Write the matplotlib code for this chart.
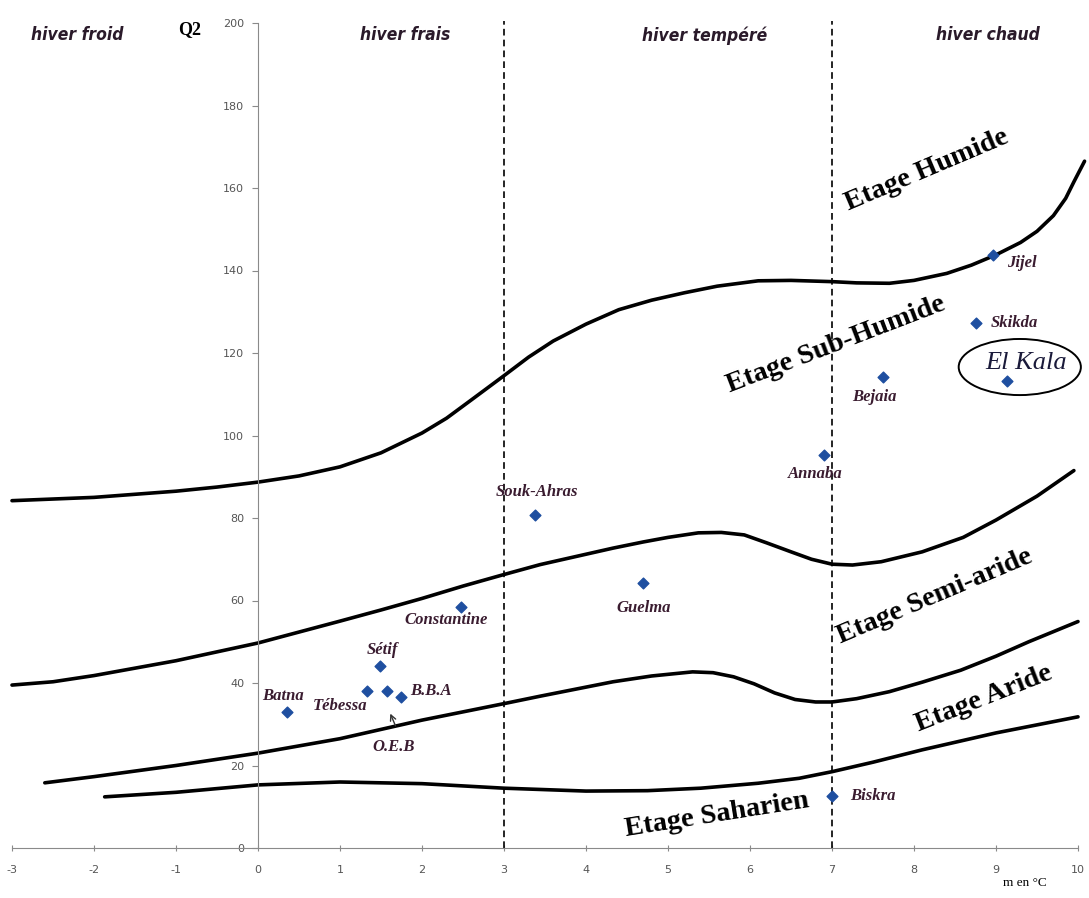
import matplotlib
matplotlib.use("Agg")
import matplotlib.pyplot as plt
from matplotlib.patches import Ellipse

plt.rcParams["axes.unicode_minus"] = False

# stations: m (deg C) and Q2
stations = ["Batna", "Tébessa", "Sétif", "O.E.B", "B.B.A", "Constantine", "Souk-Ahras",
            "Guelma", "Annaba", "Bejaia", "Skikda", "Jijel", "El Kala", "Biskra"]
m_vals = [0.35, 1.33, 1.49, 1.57, 1.74, 2.48, 3.38, 4.69, 6.9, 7.62, 8.76, 8.96, 9.13, 7.0]
q2_vals = [33.0, 38.1, 44.1, 38.1, 36.6, 58.4, 80.7, 64.2, 95.3, 114.3, 127.3, 143.8, 113.3, 12.6]

# boundaries between bioclimatic stages
humide_m = [-3, -2, -1, -0.5, 0, 0.5, 1.0, 1.5, 2.0, 2.3, 2.6, 3.0, 3.3, 3.6, 4.0, 4.4, 4.8, 5.2,
            5.6, 6.1, 6.5, 7.0, 7.3, 7.7, 8.0, 8.4, 8.7, 9.0, 9.3, 9.5, 9.7, 9.85, 9.95, 10.08]
humide_q = [84.2, 85, 86.5, 87.5, 88.7, 90.2, 92.4, 95.8, 100.6, 104.2, 108.6, 114.5, 119, 122.9,
            127.0, 130.5, 132.8, 134.6, 136.2, 137.5, 137.6, 137.3, 137.0, 136.9, 137.6, 139.3,
            141.3, 143.8, 146.8, 149.5, 153.3, 157.5, 161.5, 166.5]
semi_m = [-3, -2.5, -2, -1, 0, 1, 1.5, 2, 2.5, 3, 3.44, 4.33, 4.7, 5.0, 5.37, 5.65, 5.93, 6.2,
          6.5, 6.75, 7.0, 7.25, 7.6, 8.1, 8.6, 9.0, 9.5, 9.95]
semi_q = [39.5, 40.3, 41.8, 45.4, 49.7, 55, 57.7, 60.5, 63.5, 66.3, 68.7, 72.7, 74.2, 75.3, 76.4,
          76.5, 75.9, 74.0, 71.8, 70.0, 68.8, 68.6, 69.4, 71.8, 75.3, 79.5, 85.3, 91.5]
aride_m = [-2.6, -2, -1, 0, 1, 2, 3, 3.44, 4.33, 4.8, 5.3, 5.55, 5.8, 6.05, 6.3, 6.55, 6.8, 7.0,
           7.3, 7.7, 8.1, 8.57, 9.0, 9.4, 10]
aride_q = [15.8, 17.3, 20, 23, 26.5, 31, 35, 36.8, 40.3, 41.7, 42.7, 42.5, 41.5, 39.8, 37.6, 36.0,
           35.4, 35.4, 36.2, 37.9, 40.2, 43.1, 46.5, 50.0, 54.9]
sahara_m = [-1.87, -1, 0, 1, 2, 3, 4, 4.75, 5.4, 6.1, 6.6, 7, 7.5, 8.1, 9, 10]
sahara_q = [12.4, 13.5, 15.3, 16, 15.6, 14.5, 13.8, 13.9, 14.5, 15.7, 16.9, 18.5, 20.8, 23.8, 27.9, 31.8]

winters = ["hiver froid", "hiver frais", "hiver tempéré", "hiver chaud"]
winter_m = [-2.2, 1.8, 5.45, 8.9]

etages = ["Etage Humide", "Etage Sub-Humide", "Etage Semi-aride", "Etage Aride", "Etage Saharien"]
etage_pos = [(8.15, 164.4, 23), (7.05, 122, 21), (8.25, 61.0, 23), (8.85, 36.1, 21.5), (5.6, 8.0, 9)]

serif = "Liberation Serif"
lab_col = "#3a1c30"
gray = "#8a8a8a"

fig = plt.figure(figsize=(10.89, 8.98), dpi=100)
ax = fig.add_axes([12 / 1089, 50 / 898, 1066 / 1089, 825 / 898])
ax.set_xlim(-3, 10)
ax.set_ylim(0, 200)

for s in ["top", "right"]:
    ax.spines[s].set_visible(False)
ax.spines["left"].set_position(("data", 0))
ax.spines["left"].set_color(gray)
ax.spines["bottom"].set_color(gray)
ax.set_xticks(range(-3, 11))
ax.set_yticks(range(0, 201, 20))
ax.tick_params(axis="y", direction="out", length=4, color=gray, labelsize=8, labelcolor="#555555", pad=6)
ax.tick_params(axis="x", direction="inout", length=4, color=gray, labelsize=8, labelcolor="#555555", pad=10)

# winter limits
for xv in [3, 7]:
    ax.plot([xv, xv], [0, 200.5], color="black", ls=(0, (4, 2.5)), lw=1.2, clip_on=False)

for mm, qq in [(humide_m, humide_q), (semi_m, semi_q), (aride_m, aride_q), (sahara_m, sahara_q)]:
    ax.plot(mm, qq, color="black", lw=2.6, clip_on=False, solid_capstyle="round",
            solid_joinstyle="round")

ax.scatter(m_vals, q2_vals, marker="D", s=30, color="#1f4fa0", zorder=5)

# station labels
lab = {
    "Batna": (0.3, 36.9, "center"), "Tébessa": (1.0, 34.4, "center"), "Sétif": (1.52, 48.0, "center"),
    "O.E.B": (1.65, 24.5, "center"), "B.B.A": (1.85, 38.1, "left"), "Constantine": (2.3, 55.3, "center"),
    "Souk-Ahras": (3.4, 86.3, "center"), "Guelma": (4.7, 58.2, "center"), "Annaba": (6.8, 90.7, "center"),
    "Bejaia": (7.52, 109.4, "center"), "Skikda": (8.93, 127.3, "left"), "Jijel": (9.13, 141.8, "left"),
    "Biskra": (7.22, 12.6, "left"),
}
for name in stations:
    if name in lab:
        x, y, ha = lab[name]
        ax.text(x, y, name, ha=ha, va="center", fontsize=12, fontweight="bold", fontstyle="italic",
                family=serif, color=lab_col)
ax.annotate("", xy=(1.6, 33.2), xytext=(1.69, 29.0),
            arrowprops=dict(arrowstyle="->", color="#333333", lw=1))

# El Kala highlighted
ax.text(9.37, 117.6, "El Kala", ha="center", va="center", fontsize=19, fontstyle="italic",
        family=serif, color="#1a1a3a")
ax.add_patch(Ellipse((9.29, 116.6), 1.49, 13.6, fill=False, ec="black", lw=1.4, clip_on=False))

for name, (x, y, rot) in zip(etages, etage_pos):
    ax.text(x, y, name, ha="center", va="center", rotation=rot, fontsize=20.5, fontweight="bold",
            family=serif, color="black")

for name, x in zip(winters, winter_m):
    ax.text(x, 197, name, ha="center", va="center", fontsize=12.5, fontweight="bold", fontstyle="italic",
            fontstretch="condensed", family="DejaVu Sans", color="#2a1a2a", clip_on=False)

ax.text(-0.83, 198.5, "Q2", ha="center", va="center", fontsize=13, fontweight="bold", family=serif,
        clip_on=False)
ax.text(9.35, -8.5, "m en °C", ha="center", va="center", fontsize=9.5, family=serif, clip_on=False)

fig.savefig("out.png", dpi=100)
